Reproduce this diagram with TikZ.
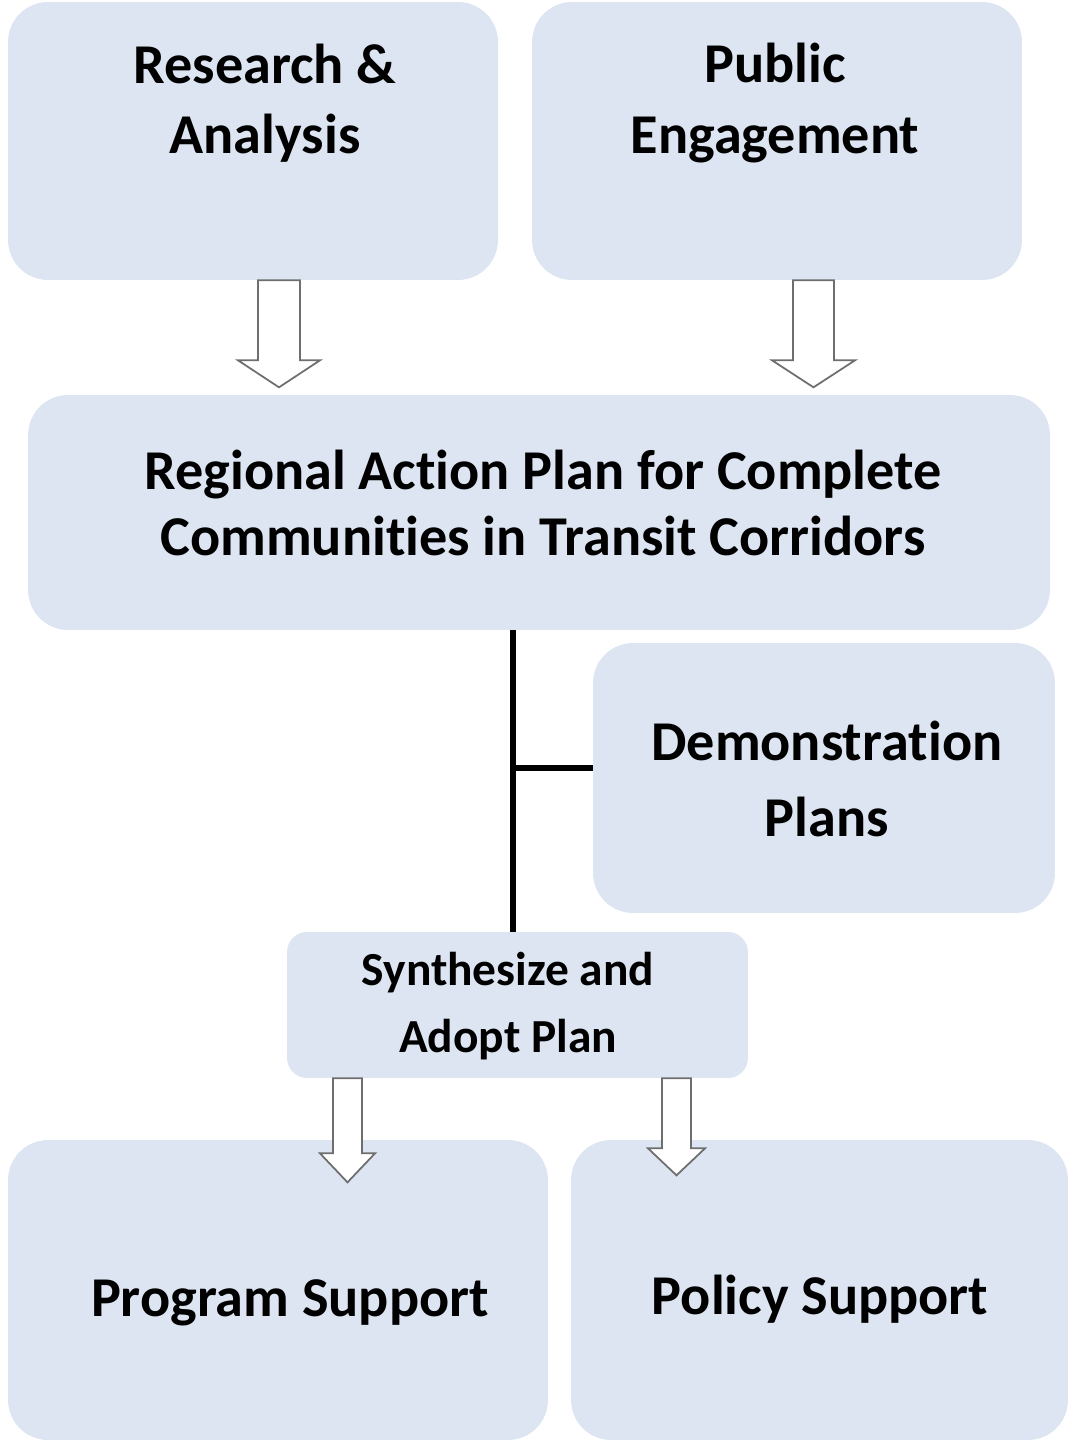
\documentclass[tikz,border=0pt]{standalone}
\usepackage{fontspec}
\setmainfont{Carlito}[RawFeature={-liga;-clig;-calt;-dlig}]
\usepackage{tikz}
\usetikzlibrary{calc}

\definecolor{panelblue}{HTML}{DCE5F1}
\definecolor{arrowgray}{HTML}{6E6E6E}

\tikzset{
  panel/.style={fill=panelblue, rounded corners=0.8cm, inner sep=0pt},
  smallpanel/.style={panel, rounded corners=0.4cm},
  bigtext/.style={align=center, font=\fontsize{32}{40}\selectfont\bfseries},
  midtext/.style={align=center, font=\fontsize{27}{38}\selectfont\bfseries},
  hollow/.style={draw=arrowgray, fill=white, line width=1pt, line join=miter},
  stem/.style={draw=black, line width=3pt}
}

\begin{document}
\begin{tikzpicture}[x=0.02cm, y=-0.02cm]
		\useasboundingbox (0,0) rectangle (1072,1442);
		% boxes
		\node[panel, minimum width=9.8cm, minimum height=5.56cm] (ra) at (253,141) {};
		\node[panel, minimum width=9.8cm, minimum height=5.56cm] (pe) at (777,141) {};
		\node[panel, minimum width=20.44cm, minimum height=4.7cm] (rap) at (539,512.5) {};
		\node[panel, minimum width=9.24cm, minimum height=5.4cm] (demo) at (824,778) {};
		\node[smallpanel, minimum width=9.22cm, minimum height=2.92cm] (syn) at (517.5,1005) {};
		\node[panel, minimum width=10.8cm, minimum height=6cm] (prog) at (278,1290) {};
		\node[panel, minimum width=9.94cm, minimum height=6cm] (pol) at (819.5,1290) {};

		% texts
		\node[bigtext] (ra-txt) at (265,103) {Research \&\\Analysis};
		\node[bigtext] (pe-txt) at (775,103) {Public\\Engagement};
		\node[bigtext, font=\fontsize{32}{38}\selectfont\bfseries] (rap-txt) at (543,503)
		{Regional Ac\kern0pt tion Plan for Complete\\Communi\kern0pt ties in Transit Corridors};
		\node[bigtext, font=\fontsize{32}{43}\selectfont\bfseries] (demo-txt) at (827,779) {Demonstra\kern0pt tion\\Plans};
		\node[midtext] (syn-txt) at (508,1006) {Synthesize and\\Adopt Plan};
		\node[bigtext] (prog-txt) at (290,1303) {Program Support};
		\node[bigtext] (pol-txt) at (820,1299) {Policy Support};

		% stem from the action plan to the synthesis
		\coordinate (jn) at (513,768);
		\draw[stem] (rap.south -| jn) -- (syn.north -| jn);
		\draw[stem] (jn) -- (jn -| demo.west);

		% hollow block arrows
		\draw[hollow] (ra.south) ++(5,0) -- ++(0,80) -- ++(-20,0) -- ++(41,27)
			-- ++(41,-27) -- ++(-20,0) -- ++(0,-80) -- cycle;
		\draw[hollow] (pe.south) ++(16,0) -- ++(0,80) -- ++(-21,0) -- ++(41.5,27)
			-- ++(41.5,-27) -- ++(-21,0) -- ++(0,-80) -- cycle;
		\draw[hollow] (syn.south) ++(-184.5,0) -- ++(0,75) -- ++(-13,0) -- ++(27.5,29)
			-- ++(27.5,-29) -- ++(-13,0) -- ++(0,-75) -- cycle;
		\draw[hollow] (syn.south) ++(144.5,0) -- ++(0,70) -- ++(-14,0) -- ++(28.5,27)
			-- ++(28.5,-27) -- ++(-14,0) -- ++(0,-70) -- cycle;
	\end{tikzpicture}
\end{document}
